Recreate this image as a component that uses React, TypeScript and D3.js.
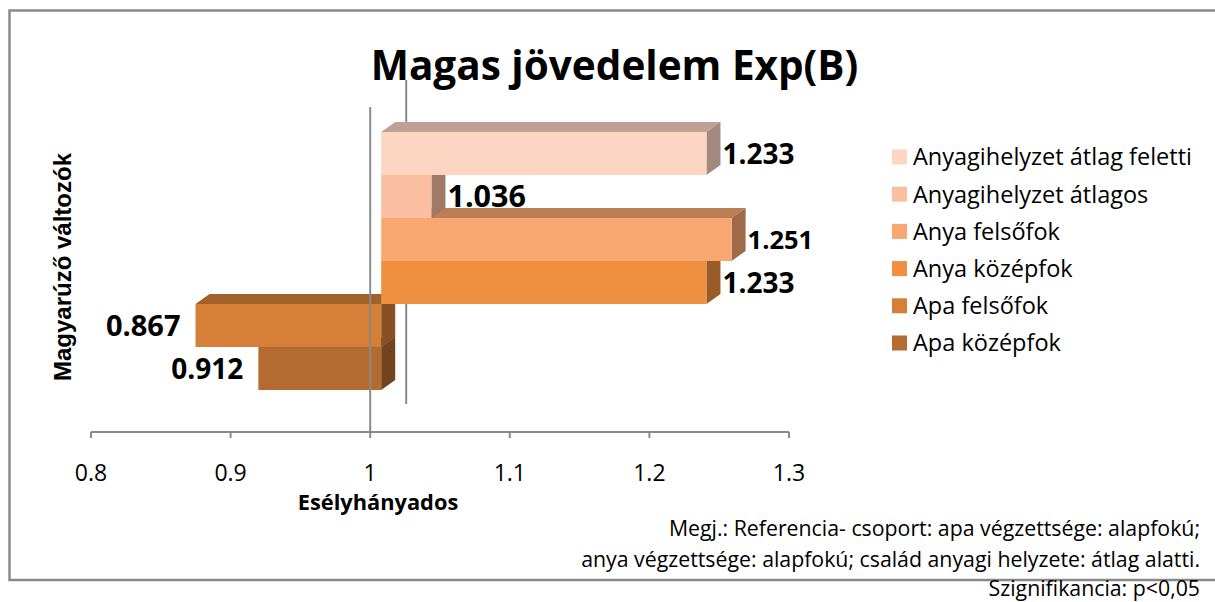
import React from "react";
import * as d3 from "d3";

// ---- data ----
const seriesNames = [
  "Anyagihelyzet átlag feletti",
  "Anyagihelyzet átlagos",
  "Anya felsőfok",
  "Anya középfok",
  "Apa felsőfok",
  "Apa középfok",
];
const seriesValues = [1.233, 1.036, 1.251, 1.233, 0.867, 0.912];
const valueLabels = ["1.233", "1.036", "1.251", "1.233", "0.867", "0.912"];
const xTickValues = [0.8, 0.9, 1, 1.1, 1.2, 1.3];
const xTickLabels = ["0.8", "0.9", "1", "1.1", "1.2", "1.3"];
const baselineValue = 1;
const titleText = "Magas jövedelem Exp(B)";
const xTitle = "Esélyhányados";
const yTitle = "Magyarúző változók";
const noteLines = [
  "Megj.: Referencia- csoport: apa végzettsége: alapfokú;",
  "anya végzettsége: alapfokú; család anyagi helyzete: átlag alatti.",
  "Szignifikancia: p<0,05",
];

// ---- styles ----
const frontColors = ["#FDD5C3", "#FABFA0", "#F8A770", "#EE9040", "#D57F39", "#B46B32"];
const labelSizes = [28, 30.5, 25.5, 28, 29, 28];
const FONT = "'Open Sans', sans-serif";

function shade(c: string, k: number) {
  const r = d3.rgb(c);
  return d3.rgb(r.r * k, r.g * k, r.b * k).formatHex();
}

export default function App() {
  const W = 1215, H = 602;
  const xAxis = d3.scaleLinear().domain([0.8, 1.3]).range([91, 789]);
  const FRONT_SHIFT = 11;
  const fx = (v: number) => xAxis(v) + FRONT_SHIFT;
  const yBand = d3.scaleBand<string>().domain(seriesNames).range([132, 390]).padding(0);
  const DX = 14, DY = -10;
  const axisY = 432;
  const gray = "#8a8a8a";

  const bars = seriesNames.map((s, i) => {
    const v = seriesValues[i];
    const x0 = fx(Math.min(v, baselineValue));
    const x1 = fx(Math.max(v, baselineValue));
    const y0 = yBand(s)!;
    const y1 = y0 + yBand.bandwidth();
    return { s, v, i, x0, x1, y0, y1 };
  });
  const drawOrder = [...bars].reverse();
  const xBase = xAxis(baselineValue);

  const legendX = 892, legendY0 = 157, legendStep = 37.2;
  const noteY = [536, 567, 596];

  return (
    <svg width={W} height={H} style={{ position: "absolute", left: 0, top: 0, background: "#fff" }}>
      <rect x={0} y={0} width={W} height={H} fill="#fff" />
      {/* border */}
      <rect x={9.5} y={10.5} width={W + 20} height={569.5} fill="none" stroke="#898989" strokeWidth={2.5} />

      {/* title */}
      <text x={614.5} y={80} textAnchor="middle" fontFamily={FONT} fontWeight={700} fontSize={40.5} fill="#000">
        {titleText}
      </text>

      {/* back line */}
      <line x1={xBase + 36} x2={xBase + 36} y1={80} y2={404} stroke={gray} strokeWidth={2} />

      {/* x axis */}
      <line x1={xAxis(0.8)} x2={xAxis(1.3)} y1={axisY} y2={axisY} stroke={gray} strokeWidth={2} />
      {xTickValues.map((t, i) => (
        <g key={i}>
          <line x1={xAxis(t)} x2={xAxis(t)} y1={axisY} y2={axisY + 6} stroke={gray} strokeWidth={2} />
          <text x={xAxis(t)} y={481} textAnchor="middle" fontFamily={FONT} fontSize={23} fill="#000">
            {xTickLabels[i]}
          </text>
        </g>
      ))}
      <text x={378} y={510} textAnchor="middle" fontFamily={FONT} fontWeight={700} fontSize={21.8} fill="#000">
        {xTitle}
      </text>

      {/* y title */}
      <text
        transform={`translate(71,267) rotate(-90)`}
        textAnchor="middle"
        fontFamily="'Liberation Sans', Arial, sans-serif"
        fontWeight={700}
        fontSize={24}
        fill="#000"
      >
        {yTitle}
      </text>

      {/* bars */}
      {drawOrder.map((b) => {
        const c = frontColors[b.i];
        const top = `${b.x0},${b.y0} ${b.x0 + DX},${b.y0 + DY} ${b.x1 + DX},${b.y0 + DY} ${b.x1},${b.y0}`;
        const right = `${b.x1},${b.y0} ${b.x1 + DX},${b.y0 + DY} ${b.x1 + DX},${b.y1 + DY} ${b.x1},${b.y1}`;
        return (
          <g key={b.s}>
            <polygon points={top} fill={shade(c, 0.76)} />
            <polygon points={right} fill={shade(c, 0.64)} />
            <rect x={b.x0} y={b.y0} width={b.x1 - b.x0} height={b.y1 - b.y0} fill={c} />
          </g>
        );
      })}

      {/* front line */}
      <line x1={xBase} x2={xBase} y1={107} y2={axisY} stroke={gray} strokeWidth={2} />

      {/* data labels */}
      {bars.map((b) => {
        const pos = b.v >= baselineValue;
        const cy = (b.y0 + b.y1) / 2;
        const fs = labelSizes[b.i];
        return (
          <text
            key={"l" + b.i}
            x={pos ? fx(b.v) + DX + 2 : fx(b.v) - 15}
            y={cy + fs * 0.36}
            textAnchor={pos ? "start" : "end"}
            fontFamily={FONT}
            fontWeight={700}
            fontSize={fs}
            fill="#000"
          >
            {valueLabels[b.i]}
          </text>
        );
      })}

      {/* legend */}
      {seriesNames.map((s, i) => {
        const cy = legendY0 + i * legendStep;
        return (
          <g key={"lg" + i}>
            <rect x={legendX} y={cy - 7.5} width={15} height={15} fill={frontColors[i]} />
            <text x={913} y={cy + 8.3} fontFamily={FONT} fontSize={23.5} fill="#000">
              {s}
            </text>
          </g>
        );
      })}

      {/* note */}
      {noteLines.map((t, i) => (
        <text key={"n" + i} x={1200} y={noteY[i]} textAnchor="end" fontFamily={FONT} fontSize={21.3} fill="#000">
          {t}
        </text>
      ))}
    </svg>
  );
}
